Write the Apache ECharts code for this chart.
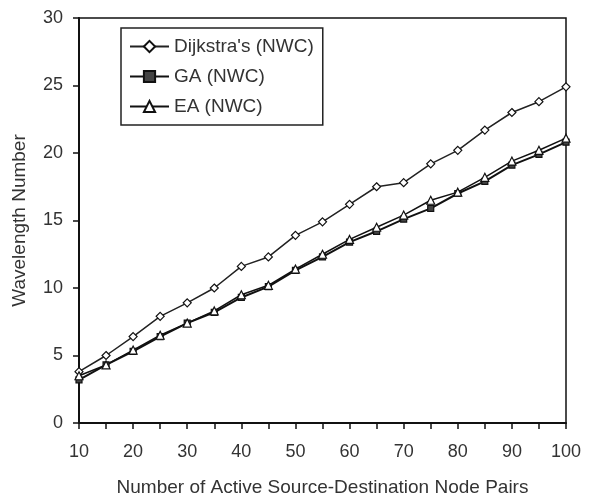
<!DOCTYPE html>
<html>
<head>
<meta charset="utf-8">
<script src="https://cdn.jsdelivr.net/npm/echarts@6/dist/echarts.min.js"></script>
<style>html,body{margin:0;padding:0;background:#fff}#c{width:593px;height:497px}</style>
</head>
<body>
<div id="c"></div>
<script>
var pairs = [10,15,20,25,30,35,40,45,50,55,60,65,70,75,80,85,90,95,100];
var dijkstra = [3.8,5.0,6.4,7.9,8.9,10.0,11.6,12.3,13.9,14.9,16.2,17.5,17.8,19.2,20.2,21.7,23.0,23.8,24.9];
var ga = [3.2,4.3,5.3,6.4,7.4,8.2,9.3,10.1,11.3,12.3,13.4,14.2,15.1,15.9,17.0,17.9,19.1,19.9,20.8];
var ea = [3.5,4.3,5.4,6.5,7.4,8.3,9.5,10.2,11.4,12.5,13.6,14.5,15.4,16.5,17.1,18.2,19.4,20.2,21.1];
var seriesNames = ["Dijkstra's (NWC)", "GA (NWC)", "EA (NWC)"];
var xTitle = "Number of Active Source-Destination Node Pairs";
var yTitle = "Wavelength Number";

function zip(xs, ys){ return xs.map(function(x,i){ return [x, ys[i]]; }); }

var chart = echarts.init(document.getElementById('c'));
var font = 'Liberation Sans, Arial, sans-serif';
chart.setOption({
  backgroundColor: '#fff',
  animation: false,
  grid: {left: 79, right: 27, top: 18, bottom: 74, show: true, borderColor: '#111', borderWidth: 1.5,
         containLabel: false, outerBoundsMode: 'none'},
  legend: {
    orient: 'vertical', left: 121, top: 28,
    padding: [9, 9, 9, 8], itemGap: 11, itemWidth: 39, itemHeight: 14,
    borderColor: '#222', borderWidth: 1.5, backgroundColor: '#fff',
    textStyle: {fontFamily: font, fontSize: 19, color: '#333'},
    data: seriesNames
  },
  xAxis: {
    type: 'value', min: 10, max: 100, interval: 5,
    name: xTitle, nameLocation: 'middle', nameGap: 55,
    nameTextStyle: {fontFamily: font, fontSize: 19, color: '#333'},
    axisLine: {lineStyle: {color: '#111', width: 2}},
    axisTick: {show: true, length: 6, lineStyle: {color: '#111', width: 1.5}},
    axisLabel: {fontFamily: font, fontSize: 18, color: '#333', margin: 20,
      formatter: function(v){ return v % 10 === 0 ? String(v) : ''; }},
    splitLine: {show: false}
  },
  yAxis: {
    type: 'value', min: 0, max: 30, interval: 5,
    name: yTitle, nameLocation: 'middle', nameGap: 50,
    nameTextStyle: {fontFamily: font, fontSize: 19, color: '#333'},
    axisLine: {show: true, lineStyle: {color: '#111', width: 2}},
    axisTick: {show: true, length: 6, lineStyle: {color: '#111', width: 1.5}},
    axisLabel: {fontFamily: font, fontSize: 18, color: '#333', margin: 16},
    splitLine: {show: false}
  },
  series: [
    {name: seriesNames[0], type: 'line', data: zip(pairs, dijkstra),
     symbol: 'diamond', symbolSize: 8,
     lineStyle: {color: '#222', width: 1.5},
     itemStyle: {color: '#fff', borderColor: '#111', borderWidth: 1.2}},
    {name: seriesNames[1], type: 'line', data: zip(pairs, ga),
     symbol: 'rect', symbolSize: 6,
     lineStyle: {color: '#111', width: 2},
     itemStyle: {color: '#444', borderColor: '#111', borderWidth: 1.2}},
    {name: seriesNames[2], type: 'line', data: zip(pairs, ea),
     symbol: 'triangle', symbolSize: 8,
     lineStyle: {color: '#111', width: 1.5},
     itemStyle: {color: '#fff', borderColor: '#111', borderWidth: 1.2}}
  ]
});
</script>
</body>
</html>
